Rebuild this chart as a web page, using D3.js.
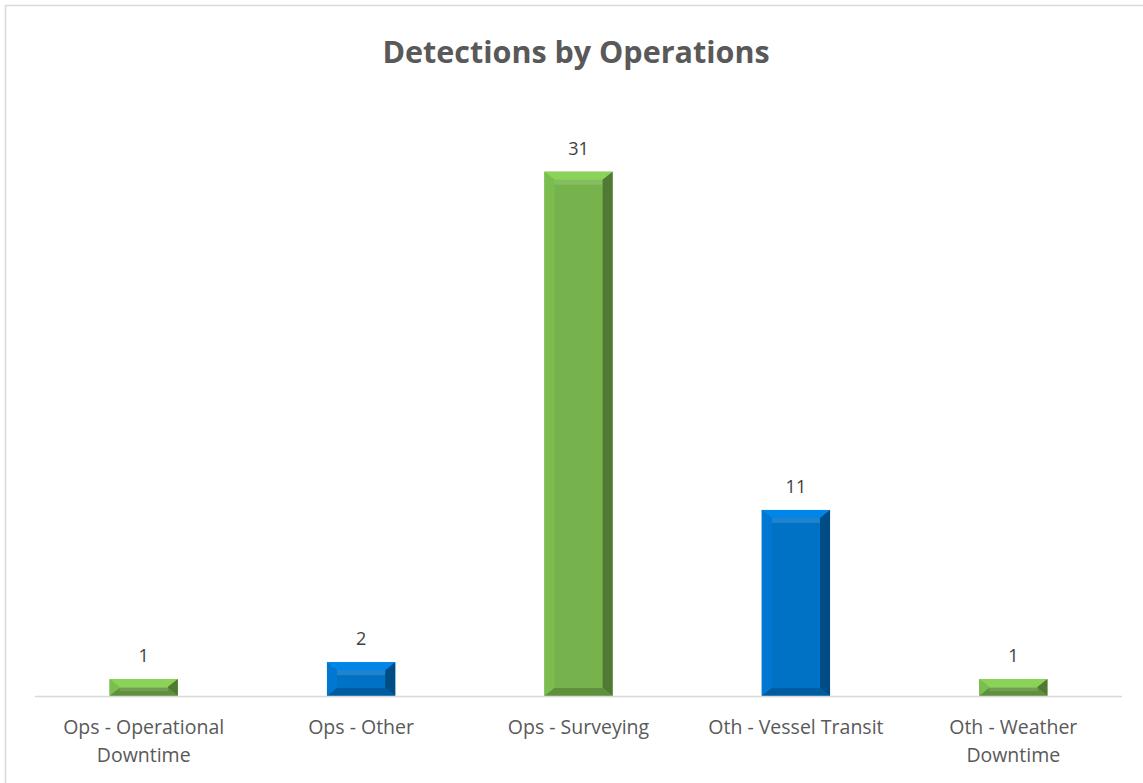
<!DOCTYPE html>
<html>
<head>
<meta charset="utf-8">
<script src="https://cdn.jsdelivr.net/npm/d3@7"></script>
<style>
  body { margin: 0; background: #fff; }
  text { font-family: "Open Sans", "Noto Sans", sans-serif; }
</style>
</head>
<body>
<div id="graph1"></div>
<script>
// detections by operations
const categories = ["Ops - Operational Downtime", "Ops - Other", "Ops - Surveying", "Oth - Vessel Transit", "Oth - Weather Downtime"]
const labelLines = [["Ops - Operational", "Downtime"], ["Ops - Other"], ["Ops - Surveying"], ["Oth - Vessel Transit"], ["Oth - Weather", "Downtime"]]
const detections = [1, 2, 31, 11, 1]
const barColors = ["#76b34c", "#0072c6", "#76b34c", "#0072c6", "#76b34c"]

const width = 1143, height = 783
const margin = { top: 104, right: 21, bottom: 87, left: 35 }

let svg = d3.select("#graph1")
    .append("svg")
    .attr("width", width)
    .attr("height", height)

// chart border
svg.append("rect")
    .attr("x", 5.5).attr("y", 5.5)
    .attr("width", width).attr("height", height)
    .attr("fill", "none")
    .attr("stroke", "#d9d9d9")
    .attr("stroke-width", 1.5)

let g = svg.append("g")
    .attr("transform", `translate(${margin.left}, ${margin.top})`)

let innerW = width - margin.left - margin.right
let innerH = height - margin.top - margin.bottom

let x = d3.scaleBand()
    .domain(categories)
    .range([0, innerW])
    .paddingInner(0.686)
    .paddingOuter(0.343)

let y = d3.scaleLinear()
    .domain([0, 35])
    .range([innerH, 0])

let data = categories.map((c, i) => ({ name: c, value: detections[i], color: barColors[i], lines: labelLines[i] }))

// bars with bevel
let bars = g.selectAll(".bar").data(data).enter().append("g").attr("class", "bar")
bars.append("rect")
    .attr("x", d => x(d.name))
    .attr("y", d => y(d.value))
    .attr("width", x.bandwidth())
    .attr("height", d => y(0) - y(d.value))
    .attr("fill", d => d.color)

function bevel(d) {
    let x0 = x(d.name), x1 = x0 + x.bandwidth()
    let y0 = y(d.value), y1 = y(0)
    let b = Math.min(8, (y1 - y0) / 2)
    let bs = 10
    return [
        { pts: [[x0, y0], [x1, y0], [x1 - bs, y0 + b], [x0 + bs, y0 + b]], c: d3.color(d.color).brighter(0.45) },
        { pts: [[x0, y0], [x0 + bs, y0 + b], [x0 + bs, y1 - b], [x0, y1]], c: d3.color(d.color).brighter(0.15) },
        { pts: [[x1, y0], [x1, y1], [x1 - bs, y1 - b], [x1 - bs, y0 + b]], c: d3.color(d.color).darker(1.1) },
        { pts: [[x0, y1], [x0 + bs, y1 - b], [x1 - bs, y1 - b], [x1, y1]], c: d3.color(d.color).darker(0.6) }
    ]
}
bars.selectAll("polygon").data(d => bevel(d)).enter().append("polygon")
    .attr("points", p => p.pts.map(q => q.join(",")).join(" "))
    .attr("fill", p => p.c)

// soft highlight under the top bevel
bars.append("rect")
    .attr("x", d => x(d.name) + 10)
    .attr("y", d => y(d.value) + Math.min(8, (y(0) - y(d.value)) / 2))
    .attr("width", x.bandwidth() - 20)
    .attr("height", d => Math.min(5, (y(0) - y(d.value)) / 4))
    .attr("fill", "#fff")
    .attr("opacity", 0.12)

// axis line
g.append("line")
    .attr("x1", 0).attr("x2", innerW)
    .attr("y1", y(0) + 0.5).attr("y2", y(0) + 0.5)
    .attr("stroke", "#d9d9d9")
    .attr("stroke-width", 1.5)

// value labels
g.selectAll(".val").data(data).enter().append("text")
    .attr("class", "val")
    .attr("x", d => x(d.name) + x.bandwidth() / 2)
    .attr("y", d => y(d.value) - 17)
    .attr("text-anchor", "middle")
    .style("font-size", "18px")
    .attr("fill", "#404040")
    .text(d => d.value)

// category labels
let cats = g.selectAll(".cat").data(data).enter().append("text")
    .attr("class", "cat")
    .attr("x", d => x(d.name) + x.bandwidth() / 2)
    .attr("y", innerH + 38)
    .attr("text-anchor", "middle")
    .style("font-size", "19.5px")
    .attr("fill", "#595959")
cats.selectAll("tspan").data(d => d.lines).enter().append("tspan")
    .attr("x", function () { return d3.select(this.parentNode).attr("x") })
    .attr("dy", (l, i) => i === 0 ? 0 : 28)
    .text(l => l)

// title
svg.append("text")
    .attr("x", 576)
    .attr("y", 63)
    .attr("text-anchor", "middle")
    .style("font-size", "30.5px")
    .style("font-weight", "bold")
    .attr("fill", "#595959")
    .text("Detections by Operations")
</script>
</body>
</html>
